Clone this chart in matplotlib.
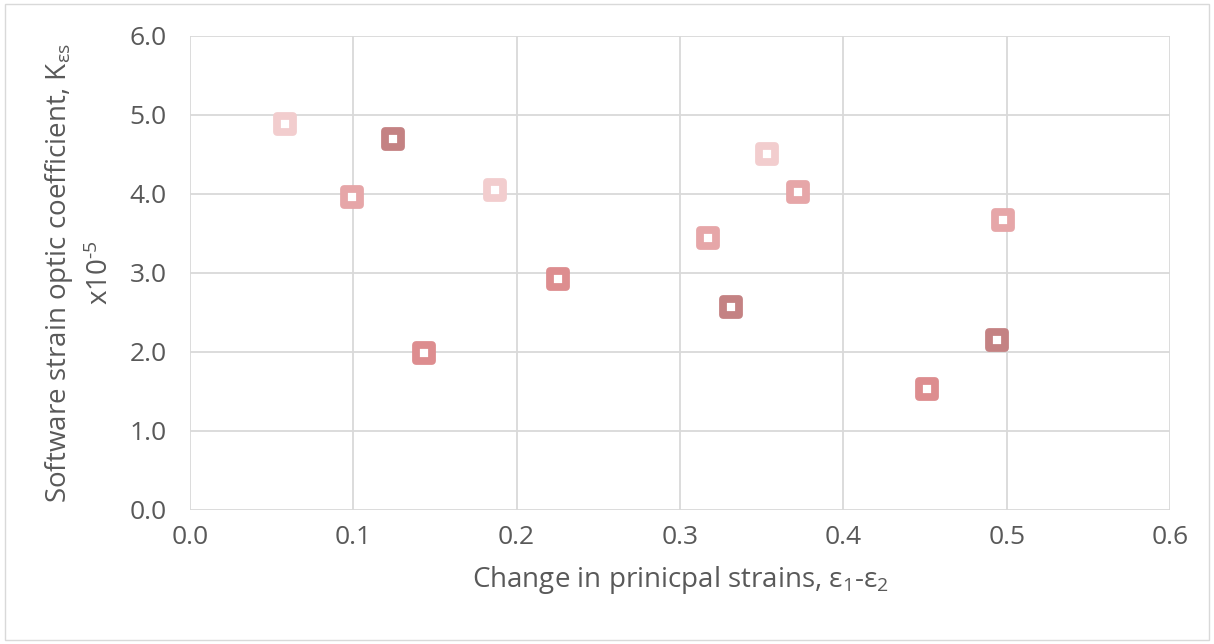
import matplotlib
matplotlib.use("Agg")
import matplotlib.pyplot as plt
from matplotlib.markers import MarkerStyle
from matplotlib.patches import Rectangle

plt.rcParams['font.family'] = ['Open Sans', 'DejaVu Sans']
plt.rcParams['mathtext.fontset'] = 'custom'
plt.rcParams['mathtext.rm'] = 'Open Sans'
plt.rcParams['mathtext.it'] = 'Open Sans:italic'

# Principal strain change (x) and strain optic coefficient x1e-5 (y), per group
x_light = [0.058, 0.187, 0.353]
y_light = [4.89, 4.05, 4.50]
x_midlight = [0.099, 0.317, 0.372, 0.498]
y_midlight = [3.96, 3.44, 4.03, 3.67]
x_mid = [0.143, 0.225, 0.451]
y_mid = [1.99, 2.93, 1.53]
x_dark = [0.124, 0.331, 0.494]
y_dark = [4.70, 2.57, 2.15]

groups = [
    (x_light, y_light, '#F2CDCE'),
    (x_midlight, y_midlight, '#E6A6A8'),
    (x_mid, y_mid, '#DD8D8F'),
    (x_dark, y_dark, '#C48283'),
]

x_ticks = [0.0, 0.1, 0.2, 0.3, 0.4, 0.5, 0.6]
y_ticks = [0.0, 1.0, 2.0, 3.0, 4.0, 5.0, 6.0]

text_color = '#595959'
grid_color = '#D9D9D9'

fig = plt.figure(figsize=(12.14, 6.44), dpi=100)
fig.patch.set_facecolor('white')
fig.add_artist(Rectangle((0.004, 0.006), 0.992, 0.988, transform=fig.transFigure,
                         fill=False, edgecolor='#D9D9D9', linewidth=1.0))

ax = fig.add_axes([0.1565, 0.2081, 0.8073, 0.736])
marker = MarkerStyle('s', joinstyle='round')
for xs, ys, c in groups:
    ax.plot(xs, ys, linestyle='none', marker=marker, markersize=11.7,
            markerfacecolor='white', markeredgecolor=c, markeredgewidth=5.6,
            zorder=3, clip_on=False)

ax.set_xlim(0, 0.6)
ax.set_ylim(0, 6)
ax.set_xticks(x_ticks)
ax.set_yticks(y_ticks)
ax.set_xticklabels([f'{v:.1f}' for v in x_ticks])
ax.set_yticklabels([f'{v:.1f}' for v in y_ticks])
ax.grid(True, color=grid_color, linewidth=1.3)
ax.set_axisbelow(True)
for s in ax.spines.values():
    s.set_visible(False)
ax.tick_params(axis='x', length=0, labelsize=19, colors=text_color, pad=11)
ax.tick_params(axis='y', length=0, labelsize=19, colors=text_color, pad=17)

ax.set_xlabel(r'Change in prinicpal strains, ε$_{\mathregular{1}}$-ε$_{\mathregular{2}}$',
              fontsize=20, color=text_color, labelpad=10)
ax.set_ylabel('Software strain optic coefficient, K$_{\\mathregular{εs}}$\nx10$^{\\text{-5}}$',
              fontsize=20, color=text_color, labelpad=10, linespacing=1.55)

fig.savefig('out.png', dpi=100)
